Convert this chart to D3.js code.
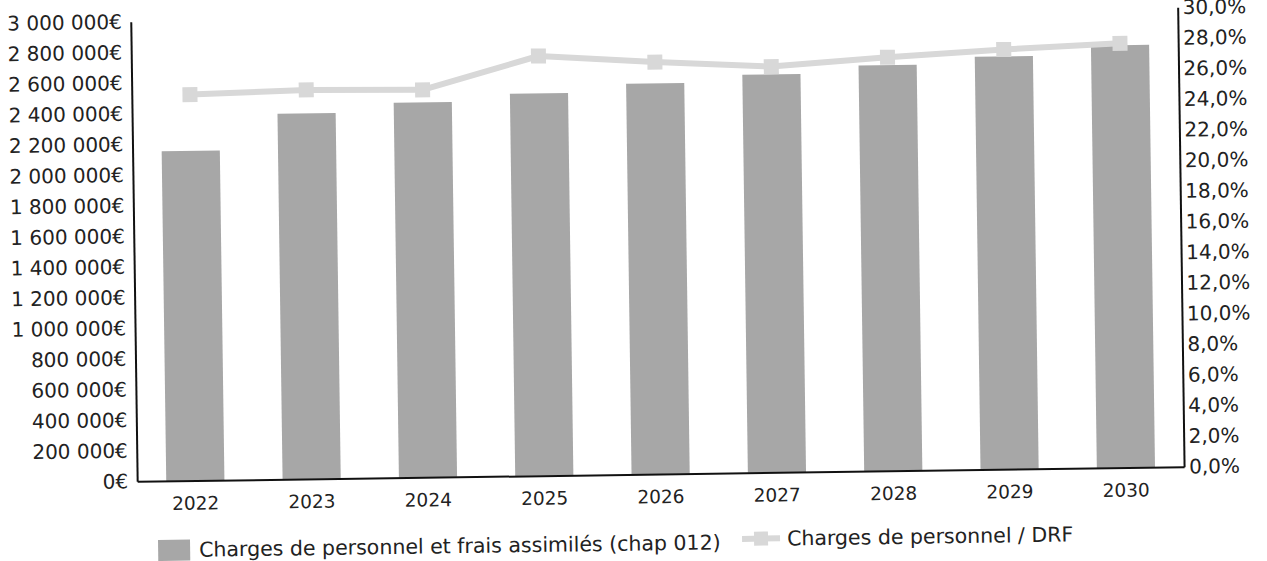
<!DOCTYPE html>
<html>
<head>
<meta charset="utf-8">
<script src="https://cdn.jsdelivr.net/npm/d3@7"></script>
<style>
  html, body { margin: 0; padding: 0; background: #fff; }
  svg { display: block; }
  text { font-family: "DejaVu Sans", sans-serif; fill: #222; }
</style>
</head>
<body>
<svg id="chart" width="1267" height="561"></svg>
<script>
// Years on the category axis
const years = ["2022", "2023", "2024", "2025", "2026", "2027", "2028", "2029", "2030"];
// Charges de personnel et frais assimilés (chap 012), in euros
const charges012 = [2152000, 2387000, 2448000, 2496000, 2551000, 2599000, 2648000, 2695000, 2757000];
// Charges de personnel / DRF, in percent
const ratioDRF = [25.2, 25.4, 25.3, 27.4, 26.9, 26.5, 27.0, 27.4, 27.7];
// Axis ticks
const leftTicks = d3.range(0, 3000001, 200000);
const rightTicks = d3.range(0, 30.01, 2);
// Legend labels
const legendLabels = ["Charges de personnel et frais assimilés (chap 012)", "Charges de personnel / DRF"];

const barColor = "#a7a7a7";
const lineColor = "#d8d8d8";

const plot = { left: 134, right: 1181, top: 14.5, bottom: 474 };

const svg = d3.select("#chart");
// The printed chart sits slightly askew on the page
const g = svg.append("g").attr("transform", "rotate(-0.8, 660, 250)");

const x = d3.scaleBand()
  .domain(years)
  .range([plot.left, plot.right])
  .paddingInner(0.5)
  .paddingOuter(0.25);

const yLeft = d3.scaleLinear().domain([0, 3000000]).range([plot.bottom, plot.top]);
const yRight = d3.scaleLinear().domain([0, 30]).range([plot.bottom, plot.top]);

const fmtEuro = v => d3.format(",")(v).replace(/,/g, "\u00a0") + "€";
const fmtPct = v => d3.format(".1f")(v).replace(".", ",") + "%";

// Bars
g.append("g").selectAll("rect")
  .data(years)
  .join("rect")
  .attr("x", d => x(d))
  .attr("width", x.bandwidth())
  .attr("y", (d, i) => yLeft(charges012[i]))
  .attr("height", (d, i) => plot.bottom - yLeft(charges012[i]))
  .attr("fill", barColor);

// Ratio line with square markers
const line = d3.line()
  .x((d, i) => x(years[i]) + x.bandwidth() / 2)
  .y(d => yRight(d));

g.append("path")
  .datum(ratioDRF)
  .attr("d", line)
  .attr("fill", "none")
  .attr("stroke", lineColor)
  .attr("stroke-width", 6)
  .attr("stroke-linejoin", "round");

const mk = 15;
g.append("g").selectAll("rect")
  .data(ratioDRF)
  .join("rect")
  .attr("x", (d, i) => x(years[i]) + x.bandwidth() / 2 - mk / 2)
  .attr("y", d => yRight(d) - mk / 2)
  .attr("width", mk)
  .attr("height", mk)
  .attr("fill", lineColor);

// Left axis
const axL = g.append("g")
  .attr("transform", `translate(${plot.left},0)`)
  .call(d3.axisLeft(yLeft).tickValues(leftTicks).tickFormat(fmtEuro).tickSize(0).tickPadding(9));
axL.select(".domain").attr("stroke", "#111").attr("stroke-width", 2);
axL.selectAll("text").style("font-size", "20px").style("font-family", "DejaVu Sans").attr("fill", "#222");

// Right axis
const axR = g.append("g")
  .attr("transform", `translate(${plot.right},0)`)
  .call(d3.axisRight(yRight).tickValues(rightTicks).tickFormat(fmtPct).tickSize(0).tickPadding(5));
axR.select(".domain").attr("stroke", "#111").attr("stroke-width", 2);
axR.selectAll("text").style("font-size", "20px").style("font-family", "DejaVu Sans").attr("fill", "#222");

// Bottom axis
const axB = g.append("g")
  .attr("transform", `translate(0,${plot.bottom})`)
  .call(d3.axisBottom(x).tickSize(0).tickPadding(16));
axB.select(".domain").attr("stroke", "#111").attr("stroke-width", 2);
axB.selectAll("text").style("font-size", "18.5px").style("font-family", "DejaVu Sans").attr("fill", "#222");

// Legend
const leg = g.append("g").attr("transform", "translate(0,543)");
leg.append("rect").attr("x", 154).attr("y", -10).attr("width", 32).attr("height", 21).attr("fill", barColor);
leg.append("text").attr("x", 195).attr("y", 0).attr("dy", "0.35em")
  .style("font-size", "20.5px").text(legendLabels[0]);
leg.append("line").attr("x1", 738).attr("x2", 776).attr("y1", -3).attr("y2", -3)
  .attr("stroke", lineColor).attr("stroke-width", 6);
leg.append("rect").attr("x", 750).attr("y", -10).attr("width", 14).attr("height", 14).attr("fill", lineColor);
leg.append("text").attr("x", 783).attr("y", -3).attr("dy", "0.35em")
  .style("font-size", "20.5px").text(legendLabels[1]);
</script>
</body>
</html>
